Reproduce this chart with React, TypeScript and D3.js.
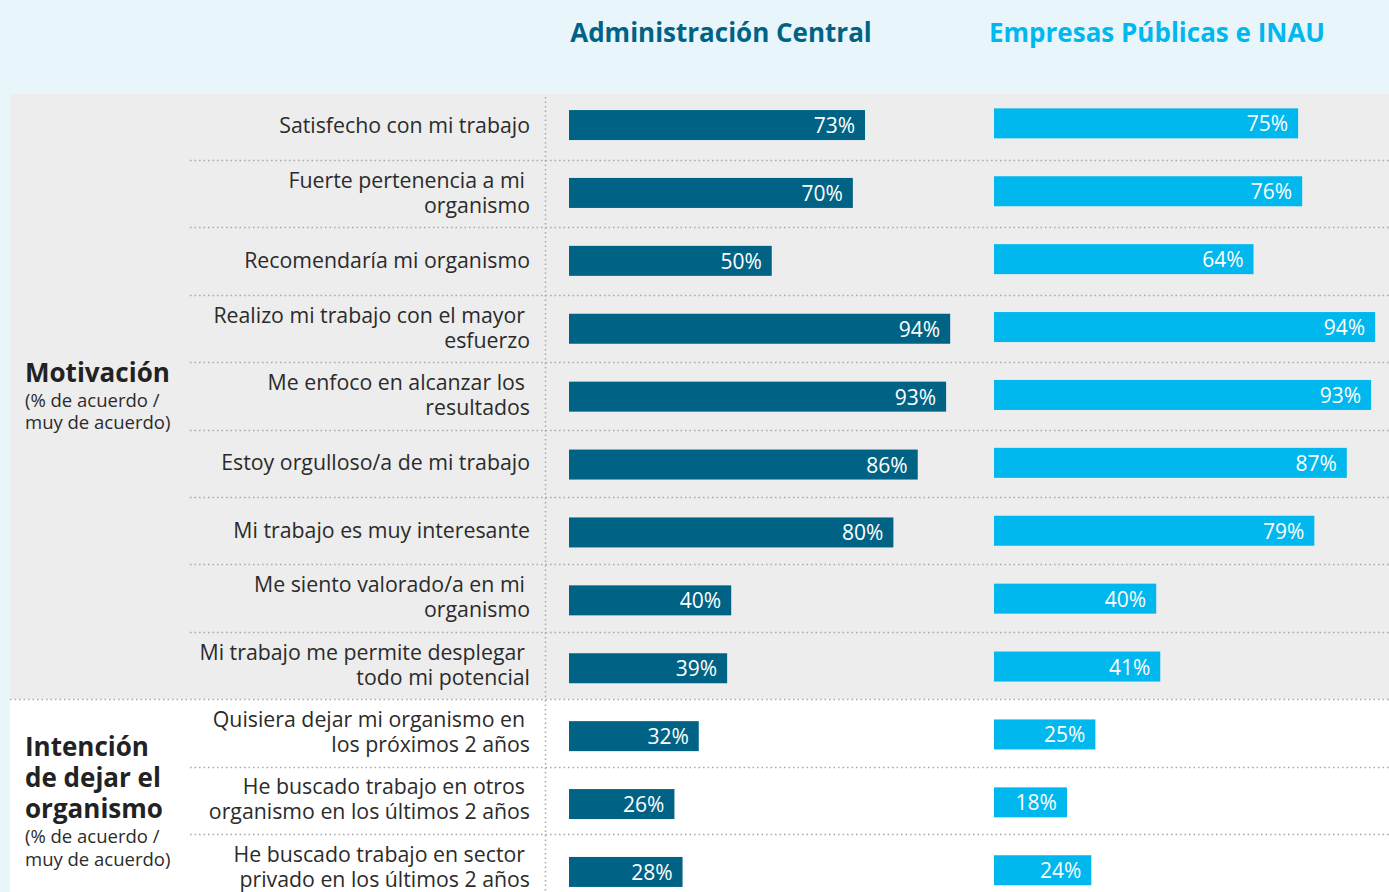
import React, { useEffect, useRef } from "react";
import * as d3 from "d3";

// Row labels (a "\n" splits a label into two lines)
const items = [
  "Satisfecho con mi trabajo",
  "Fuerte pertenencia a mi\norganismo",
  "Recomendaría mi organismo",
  "Realizo mi trabajo con el mayor\nesfuerzo",
  "Me enfoco en alcanzar los\nresultados",
  "Estoy orgulloso/a de mi trabajo",
  "Mi trabajo es muy interesante",
  "Me siento valorado/a en mi\norganismo",
  "Mi trabajo me permite desplegar\ntodo mi potencial",
  "Quisiera dejar mi organismo en\nlos próximos 2 años",
  "He buscado trabajo en otros\norganismo en los últimos 2 años",
  "He buscado trabajo en sector\nprivado en los últimos 2 años",
];

const adminCentral = [73, 70, 50, 94, 93, 86, 80, 40, 39, 32, 26, 28];
const empresasPublicas = [75, 76, 64, 94, 93, 87, 79, 40, 41, 25, 18, 24];

const seriesNames = ["Administración Central", "Empresas Públicas e INAU"];
const seriesColors = ["#006385", "#00B7EE"];

const groupTitles = [["Motivación"], ["Intención", "de dejar el", "organismo"]];
const groupNote = ["(% de acuerdo /", "muy de acuerdo)"];
const groupSizes = [9, 3];

const W = 1389;
const H = 892;
const FONT = "'Open Sans', 'Noto Sans', sans-serif";

export default function App() {
  const ref = useRef<SVGSVGElement>(null);

  useEffect(() => {
    const svg = d3.select(ref.current);
    svg.selectAll("*").remove();

    // Rows: grid/labels and bars use slightly different pitch, like the original
    const y = d3.scaleBand<number>()
      .domain(d3.range(items.length))
      .range([92.6, 92.6 + 67.4 * items.length]);
    const yBar = d3.scaleBand<number>()
      .domain(d3.range(items.length))
      .range([91.1, 91.1 + 67.9 * items.length]);
    const x = d3.scaleLinear().domain([0, 100]).range([0, 405.5]);
    const barH = 30;
    const colX = [569, 994];
    const headX = [721, 1157];
    const rowLine = (i: number) => y(i)! + y.bandwidth();
    const split = y(groupSizes[0])!;

    // Backgrounds
    svg.append("rect").attr("width", W).attr("height", H).attr("fill", "#E8F5FB");
    svg.append("rect").attr("x", 10).attr("y", 94).attr("width", W - 10).attr("height", split - 94)
      .attr("fill", "#EDEDED");
    svg.append("rect").attr("x", 10).attr("y", split).attr("width", W - 10).attr("height", H - split)
      .attr("fill", "#FFFFFF");

    // Column headers
    seriesNames.forEach((name, k) => {
      svg.append("text")
        .attr("x", headX[k])
        .attr("y", 42)
        .attr("text-anchor", "middle")
        .attr("font-family", FONT)
        .attr("font-weight", 700)
        .attr("font-size", 26)
        .attr("fill", seriesColors[k])
        .text(name);
    });

    // Dotted grid lines
    const dots = (sel: any) => sel
      .attr("stroke", "#ABABAB")
      .attr("stroke-width", 1.6)
      .attr("stroke-dasharray", "1.6 2.9");

    items.forEach((_, i) => {
      if (i === items.length - 1) return;
      const yy = Math.round(rowLine(i)) + 0.5;
      svg.append("line")
        .attr("x1", i === groupSizes[0] - 1 ? 10 : 190)
        .attr("x2", W)
        .attr("y1", yy).attr("y2", yy)
        .call(dots);
    });
    svg.append("line")
      .attr("x1", 545.5).attr("x2", 545.5)
      .attr("y1", 97).attr("y2", H)
      .call(dots);

    // Row labels
    items.forEach((label, i) => {
      const c = y(i)! + y.bandwidth() / 2;
      const lines = label.split("\n");
      const t = svg.append("text")
        .attr("text-anchor", "end")
        .attr("font-family", FONT)
        .attr("font-size", 21.3)
        .attr("fill", "#2B2B2B");
      if (lines.length === 1) {
        t.append("tspan").attr("x", 530).attr("y", c + 7).text(lines[0]);
      } else {
        t.append("tspan").attr("x", 525).attr("y", c - 6).text(lines[0]);
        t.append("tspan").attr("x", 530).attr("y", c + 19).text(lines[1]);
      }
    });

    // Group labels
    const groupY = [[382], [756, 787, 818]];
    const noteY = [[407, 429], [843, 866]];
    groupTitles.forEach((lines, g) => {
      lines.forEach((l, j) => {
        svg.append("text")
          .attr("x", 25).attr("y", groupY[g][j])
          .attr("font-family", FONT).attr("font-weight", 700).attr("font-size", 26)
          .attr("fill", "#222").text(l);
      });
      groupNote.forEach((l, j) => {
        svg.append("text")
          .attr("x", 25).attr("y", noteY[g][j])
          .attr("font-family", FONT).attr("font-size", 18.5)
          .attr("fill", "#2B2B2B").text(l);
      });
    });

    // Bars
    [adminCentral, empresasPublicas].forEach((vals, k) => {
      const g = svg.append("g");
      const yOff = k === 0 ? 0 : -1.7;
      const top = (i: number) => yBar(i)! + (yBar.bandwidth() - barH) / 2 + yOff;
      g.selectAll("rect")
        .data(vals)
        .enter()
        .append("rect")
        .attr("x", colX[k])
        .attr("y", (d, i) => top(i))
        .attr("width", (d) => x(d))
        .attr("height", barH)
        .attr("fill", seriesColors[k]);
      g.selectAll("text")
        .data(vals)
        .enter()
        .append("text")
        .attr("x", (d) => colX[k] + x(d) - 10)
        .attr("y", (d, i) => top(i) + barH / 2 + 8)
        .attr("text-anchor", "end")
        .attr("font-family", FONT)
        .attr("font-size", 21)
        .attr("fill", "#FFFFFF")
        .text((d) => d + "%");
    });
  }, []);

  return (
    <div style={{ position: "fixed", left: 0, top: 0, width: W, height: H }}>
      <svg ref={ref} width={W} height={H} style={{ display: "block" }}></svg>
    </div>
  );
}
